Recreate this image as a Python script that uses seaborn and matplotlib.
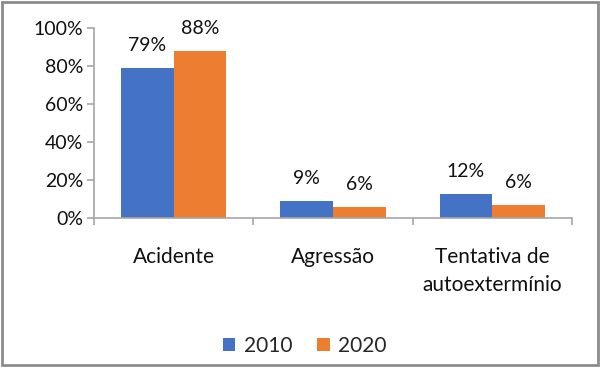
import pandas as pd
import seaborn as sns
import matplotlib.pyplot as plt
import matplotlib.ticker as ticker
from matplotlib.patches import Rectangle

categories = ['Acidente', 'Agressão', 'Tentativa de\nautoextermínio']
years = ['2010', '2020']
values_2010 = [0.79, 0.09, 0.125]
values_2020 = [0.88, 0.06, 0.068]
labels_2010 = ['79%', '9%', '12%']
labels_2020 = ['88%', '6%', '6%']

df = pd.DataFrame({
    'categoria': categories * 2,
    'ano': [years[0]] * 3 + [years[1]] * 3,
    'valor': values_2010 + values_2020,
})

sns.set_style('white')
plt.rcParams['font.family'] = ['Lato', 'DejaVu Sans']

fig = plt.figure(figsize=(6, 3.67), dpi=100)
ax = fig.add_axes([0.157, 0.406, 0.796, 0.518])

sns.barplot(data=df, x='categoria', y='valor', hue='ano', order=categories,
            hue_order=years, palette=['#4472C4', '#ED7D31'], width=0.66,
            saturation=1, linewidth=0, ax=ax, legend=True)

for container, labs in zip(ax.containers, [labels_2010, labels_2020]):
    ax.bar_label(container, labels=labs, padding=10, fontsize=14, color='#111111')

ax.set_xlim(-0.5, 2.5)
ax.set_ylim(0, 1)
ax.yaxis.set_major_locator(ticker.MultipleLocator(0.2))
ax.yaxis.set_major_formatter(ticker.PercentFormatter(1.0, decimals=0))
ax.set_xlabel('')
ax.set_ylabel('')

for s in ['top', 'right']:
    ax.spines[s].set_visible(False)
for s in ['left', 'bottom']:
    ax.spines[s].set_color('#a6a6a6')
    ax.spines[s].set_linewidth(1.2)

ax.tick_params(axis='y', left=True, length=5, color='#a6a6a6', width=1.2,
               labelsize=14, labelcolor='#111111', pad=3)
ax.tick_params(axis='x', which='major', length=0, labelsize=15,
               labelcolor='#111111', pad=21)
ax.xaxis.set_minor_locator(ticker.FixedLocator([-0.5, 0.5, 1.5, 2.5]))
ax.tick_params(axis='x', which='minor', bottom=True, length=5, direction='out',
               color='#a6a6a6', width=1.2)
ax.set_xticks(range(len(categories)), categories, linespacing=1.5)

handles, lbls = ax.get_legend_handles_labels()
ax.legend_.remove()
fig.legend(handles, lbls, loc='center', bbox_to_anchor=(0.508, 0.057), ncol=2,
           frameon=False, fontsize=15, handlelength=0.6, handleheight=0.6,
           handletextpad=0.4, columnspacing=1.2)

fig.patches.append(Rectangle((0.004, 0.005), 0.992, 0.99, transform=fig.transFigure,
                             fill=False, edgecolor='#8c8c8c', linewidth=2))

fig.savefig('out.png', dpi=100)
